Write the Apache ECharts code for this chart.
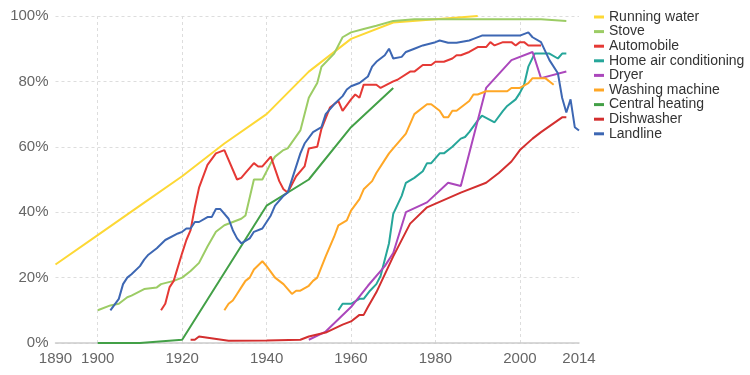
<!DOCTYPE html>
<html>
<head>
<meta charset="utf-8">
<script src="https://cdn.jsdelivr.net/npm/echarts@6/dist/echarts.min.js"></script>
<style>
  html, body { margin: 0; padding: 0; background: #fff; }
  #chart { width: 750px; height: 375px; }
</style>
</head>
<body>
<div id="chart"></div>
<script>
// Household technology adoption, share of US households (%), [year, value]
const runningWater = [[1890,24],[1900,33],[1910,42],[1920,51],[1930,61],[1940,70],[1950,83],[1960,93],[1970,98],[1980,99],[1990,100]]
const stove = [[1900,10],[1903,11.5],[1905,12],[1907,14],[1908,14.5],[1911,16.5],[1914,17],[1915,18],[1918,19],[1920,20],[1922,22],[1924,24.5],[1926,29.5],[1928,34],[1930,36],[1934,38],[1935,39],[1937,50],[1939,50],[1941,55],[1942,57],[1944,59],[1945,59.5],[1948,65],[1950,75],[1952,79.5],[1953,84.5],[1956,88.5],[1958,93.5],[1960,95],[1963,96],[1966,97],[1970,98.5],[1975,99],[2005,99],[2011,98.5]]
const automobile = [[1915,10],[1916,12],[1917,17],[1918,19],[1920,27.5],[1921,31.5],[1922,34.5],[1923,41.5],[1924,47.5],[1926,54.5],[1928,58],[1930,59],[1933,50],[1934,50.5],[1935,52],[1937,55],[1938,54],[1939,54],[1941,57],[1943,49.5],[1944,47],[1945,46],[1947,51],[1949,54],[1950,59.5],[1952,60],[1953,65.5],[1955,72],[1957,74],[1958,71],[1960,74.5],[1961,76],[1962,75],[1963,79],[1966,79],[1967,78],[1970,80],[1971,80.5],[1974,83],[1975,83],[1977,85],[1979,85],[1980,86],[1982,86],[1984,87],[1985,88],[1986,88],[1988,89],[1990,90.5],[1992,90.5],[1993,92],[1994,91],[1996,92],[1998,92],[1999,91],[2000,92],[2001,92],[2002,91],[2005,91]]
const homeAirConditioning = [[1957,10],[1958,12],[1960,12],[1962,13.5],[1963,13.5],[1964.5,16],[1966,18],[1967,20.5],[1969,30.5],[1970,39.5],[1972,45],[1973,49],[1975,50.5],[1977,52.5],[1978,55],[1979,55],[1981,58],[1982,58],[1984,60],[1986,62.5],[1987,63],[1988,64.5],[1990,68],[1991,69.5],[1994,67.5],[1996,71],[1997,72.5],[1999,74.5],[2000,76.5],[2001,79],[2002,84.5],[2003.5,88.5],[2007,88.5],[2009,87],[2010,88.5],[2011,88.5]]
const dryer = [[1950,1],[1954,3.5],[1960,11],[1964,17.5],[1968,23.5],[1970,27.5],[1973,40],[1978,43],[1983,49],[1986,48],[1992,78],[1998,86.5],[2003,89],[2005,81],[2011,83]]
const washingMachine = [[1930,10],[1931,12],[1932,13],[1933,15],[1934,17],[1935,19],[1936,20],[1937,22.5],[1939,25],[1940,23.5],[1942,20],[1944,18],[1946,15],[1947,16],[1948,16],[1950,17.5],[1951,19],[1952,20],[1954,26.5],[1956,32.5],[1957,36],[1959,37.5],[1960,40.5],[1962,44],[1963,47],[1965,49.5],[1966,52],[1968,56],[1969,58],[1970,59.5],[1973,64],[1975,70],[1978,73],[1979,73],[1981,71],[1982,69],[1983,69],[1984,71],[1985,71],[1987,73],[1988,74],[1989,76],[1990,76],[1992,77],[1997,77],[1998,78],[2000,78],[2002,79.5],[2003,81],[2006,81],[2008,79]]
const centralHeating = [[1900,0],[1910,0],[1920,1],[1940,42],[1950,50],[1960,66],[1970,78]]
const dishwasher = [[1922,1],[1923,1],[1924,2],[1931,0.7],[1940,0.8],[1948,1],[1950,2],[1954,3.2],[1958,5.6],[1960,6.6],[1962,8.6],[1963,8.6],[1964,11],[1966,15.5],[1968,21],[1970,26.5],[1974,36.5],[1978,41.5],[1986,46],[1992,49],[1995,52],[1998,55.5],[2000,59],[2003,62.5],[2005,64.5],[2010,69],[2011,69]]
const landline = [[1903,10],[1905,13.5],[1906,18],[1907,20],[1908,21],[1910,23.5],[1911,25.5],[1912,27],[1914,29],[1916,31.5],[1919,33.5],[1920,34],[1921,35],[1922,35],[1923,37],[1924,37],[1926,38.5],[1927,38.5],[1928,41],[1929,41],[1931,38],[1932,34.5],[1933,32],[1934,30.5],[1936,32],[1937,34],[1939,35],[1941,39],[1942,42],[1944,45],[1945,46],[1948,58],[1949,61],[1951,64.5],[1953,66],[1954,70],[1956,73],[1958,75.5],[1959,77.5],[1960,78.5],[1962,79.5],[1964,81.5],[1965,84.5],[1966,86],[1968,88],[1969,90],[1970,87],[1972,87.5],[1973,89],[1975,90],[1977,91],[1980,92],[1981,92.5],[1983,91.8],[1985,91.8],[1988,92.5],[1989,93],[1991,94],[2000,94],[2002,95],[2003,93.5],[2005,92],[2007,86.5],[2009,82.5],[2010,75],[2011,70.5],[2012,74.5],[2013,66],[2014,65]]

const seriesNames = ['Running water', 'Stove', 'Automobile', 'Home air conditioning', 'Dryer', 'Washing machine', 'Central heating', 'Dishwasher', 'Landline']
const seriesData = [runningWater, stove, automobile, homeAirConditioning, dryer, washingMachine, centralHeating, dishwasher, landline]
const colors = ['#fdd835', '#9ccc65', '#e53935', '#26a69a', '#ab47bc', '#ffa726', '#43a047', '#d32f2f', '#3d67b3']

const chart = echarts.init(document.getElementById('chart'))

chart.setOption({
  animation: false,
  color: colors,
  textStyle: { fontFamily: 'Arial, "Liberation Sans", sans-serif' },
  grid: { left: 55.5, right: 171, top: 16, bottom: 32 },
  legend: {
    orient: 'vertical',
    left: 589,
    top: 5,
    icon: 'rect',
    itemWidth: 10,
    itemHeight: 3,
    itemGap: 0.6,
    textStyle: { fontSize: 14, color: '#333', lineHeight: 14 },
    data: seriesNames
  },
  xAxis: {
    type: 'value',
    min: 1890,
    max: 2014,
    axisLine: { show: true, lineStyle: { color: '#ccc', width: 1.5 } },
    axisTick: { show: false },
    axisLabel: { fontSize: 15, color: '#666', margin: 8, formatter: v => String(v) },
    splitLine: {
      show: true,
      showMinLine: false,
      showMaxLine: false,
      lineStyle: { color: '#ddd', type: [3, 3] }
    }
  },
  yAxis: {
    type: 'value',
    min: 0,
    max: 100,
    interval: 20,
    axisLine: { show: false },
    axisTick: { show: false },
    axisLabel: { fontSize: 15, color: '#666', margin: 7, formatter: '{value}%' },
    splitLine: { lineStyle: { color: '#ddd', type: [3, 3] } }
  },
  series: seriesNames.map((name, i) => ({
    name,
    type: 'line',
    data: seriesData[i],
    showSymbol: false,
    symbol: 'none',
    lineStyle: { width: 2 }
  }))
})
</script>
</body>
</html>
